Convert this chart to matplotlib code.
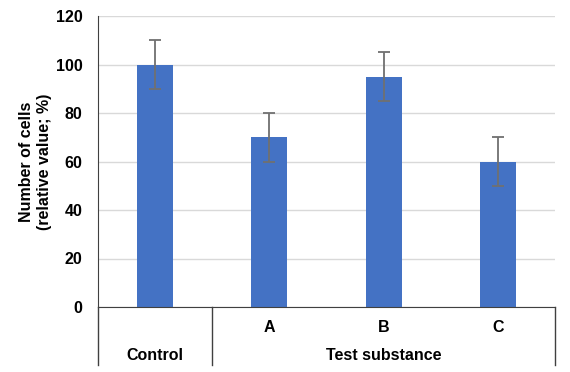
import matplotlib.pyplot as plt
import matplotlib.transforms as mtransforms

plt.rcParams['font.family'] = ['Liberation Sans', 'DejaVu Sans']

# data
labels = ['Control', 'A', 'B', 'C']
values = [100, 70, 95, 60]
errors = [10, 10, 10, 10]
group_labels = ['Control', 'Test substance']
yticks = [0, 20, 40, 60, 80, 100, 120]

bar_color = '#4472C4'
line_color = '#404040'
fs = 11.5

fig = plt.figure(figsize=(5.7, 3.72), dpi=100)
ax = fig.add_axes([98 / 570, 1 - 307 / 372, (555 - 98) / 570, (307 - 16) / 372])

x = list(range(len(labels)))
ax.bar(x, values, width=0.315, color=bar_color, zorder=3)
ax.errorbar(x, values, yerr=errors, fmt='none', ecolor='#707070',
            elinewidth=1.3, capsize=4, capthick=1.3, zorder=4)

ax.set_xlim(-0.5, len(labels) - 0.5)
ax.set_ylim(0, 120)
ax.set_yticks(yticks)
ax.set_yticklabels([str(t) for t in yticks], fontsize=fs, fontweight='bold')
ax.tick_params(axis='y', length=0, pad=11)
# small outward ticks only at the ends of the axis
ax.set_yticks([yticks[0], yticks[-1]], minor=True)
ax.tick_params(axis='y', which='minor', length=4, color=line_color, width=1)
ax.set_xticks([])
ax.grid(axis='y', color='#d9d9d9', linewidth=1, zorder=0)

for s in ['top', 'right']:
    ax.spines[s].set_visible(False)
ax.spines['bottom'].set_color(line_color)
ax.spines['left'].set_color(line_color)
ax.spines['bottom'].set_zorder(5)

ax.set_ylabel('Number of cells\n(relative value; %)', fontsize=fs,
              fontweight='bold', labelpad=3, linespacing=1.25)

# two-level category axis below the plot
trans = mtransforms.blended_transform_factory(ax.transData, ax.transAxes)
bottom = -0.199
for xv in [-0.5, 0.5, len(labels) - 0.5]:
    ax.plot([xv, xv], [0, bottom], transform=trans, color=line_color,
            linewidth=1, clip_on=False)

for i, lab in enumerate(labels[1:], start=1):
    ax.text(i, -0.069, lab, transform=trans, ha='center', va='center',
            fontsize=fs, fontweight='bold')

ax.text(0, -0.168, group_labels[0], transform=trans, ha='center',
        va='center', fontsize=fs, fontweight='bold')
ax.text(2, -0.168, group_labels[1], transform=trans, ha='center',
        va='center', fontsize=fs, fontweight='bold')

fig.savefig('out.png', dpi=100)
